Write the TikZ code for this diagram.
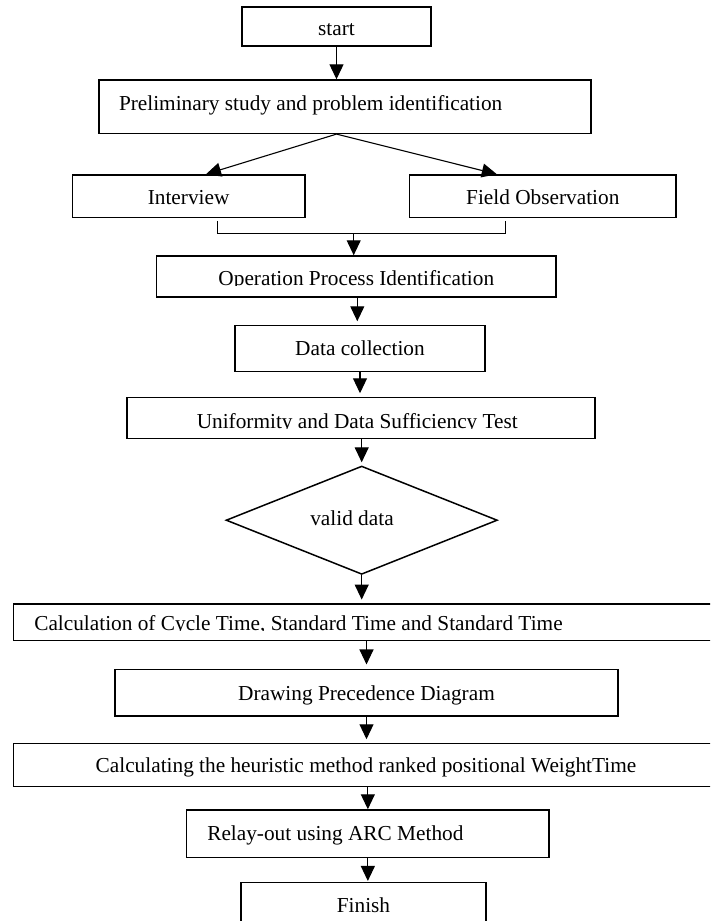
\documentclass[tikz,border=0pt]{standalone}
\usepackage{fontspec}
\setmainfont{Liberation Serif}
\usetikzlibrary{shapes.geometric,arrows.meta}
\begin{document}
\begin{tikzpicture}[x=1pt,y=-1pt,
  bx/.style={draw, line width=1.5pt, inner sep=0pt, font=\fontsize{21.3pt}{25pt}\selectfont, text depth=0pt},
  arr/.style={line width=1.1pt, -{Triangle[length=15pt,width=14pt]}},
  thinline/.style={line width=0.8pt},
]
\useasboundingbox (0,0) rectangle (710,921);
\clip (0,0) rectangle (710,921);
\fill[white] (0,0) rectangle (710,921);

\node[bx, minimum width=189pt, minimum height=39pt, text height=17pt] (start) at (336.5,26.5) {start};
\node[bx, minimum width=492pt, minimum height=53.3pt, text height=6.6pt, text width=452pt, inner xsep=20pt, align=flush left] (prelim) at (345,106.7) {Preliminary study and problem identification};
\node[bx, minimum width=232.3pt, minimum height=42.7pt, text height=15.4pt] (interview) at (188.6,196.3) {Interview};
\node[bx, minimum width=266.8pt, minimum height=42.7pt, text height=15.4pt] (field) at (542.8,196.3) {Field Observation};
\node[bx, minimum width=399.3pt, minimum height=41pt, text height=18.4pt] (op) at (356.3,276.5) {Operation Process Identification};
\node[bx, minimum width=250pt, minimum height=46pt, text height=12.6pt] (data) at (360,348.7) {Data collection};
\node[bx, minimum width=468pt, minimum height=40.6pt, text height=20.6pt] (unif) at (360.9,418) {Uniformity and Data Sufficiency Test\kern7.2pt};
\node[bx, diamond, aspect=2.5, minimum width=271.3pt, minimum height=108.3pt, text height=11pt] (valid) at (361.7,520.2) {valid data\kern19.4pt};
\node[bx, minimum width=746.7pt, minimum height=36.7pt, text height=16.7pt, text width=704.7pt, inner xsep=21pt, align=flush left] (calc) at (386.65,622.35) {Calculation of Cycle Time, Standard Time and Standard Time};
\node[bx, minimum width=503pt, minimum height=46.4pt, text height=14.6pt] (prec) at (366.5,692.7) {Drawing Precedence Diagram};
\node[bx, minimum width=746.7pt, minimum height=43.4pt, text height=15.4pt, text width=581.9pt, inner xsep=82.4pt, align=flush left] (heur) at (386.65,765) {Calculating the heuristic method ranked positional WeightTime};
\node[bx, minimum width=362.3pt, minimum height=47.7pt, text height=12.3pt, text width=321.1pt, inner xsep=20.6pt, align=flush left] (relay) at (367.85,833.85) {Relay-out using ARC Method};
\node[bx, minimum width=245pt, minimum height=57.3pt, text height=2.7pt] (finish) at (363.5,911.35) {Finish};

% lower parts of some texts are cut off in the original
\fill[white] (158,286.1) rectangle (555,296.1);
\fill[white] (128,428.6) rectangle (594,437.4);
\fill[white] (14.5,631.0) rectangle (710,639.8);

% connectors
\draw[arr] (start.south) -- (start.south |- prelim.north);
\coordinate (split) at (start.south |- prelim.south);
\draw[arr] (split) -- ([xshift=17.4pt]interview.north);
\draw[arr] (split) -- ([xshift=-46pt]field.north);

\coordinate (iL) at ([xshift=29.2pt,yshift=-2.5pt]interview.south);
\coordinate (fR) at ([xshift=-37.8pt,yshift=-2.5pt]field.south);
\coordinate (mL) at ([xshift=29.2pt,yshift=-15.3pt]interview.south);
\coordinate (mR) at ([xshift=-37.8pt,yshift=-15.3pt]field.south);
\draw[thinline] (iL) -- (mL) -- (mR) -- (fR);
\coordinate (mj) at (353.7,233);
\draw[arr] (mj) -- (mj |- op.north);

\draw[arr, shorten >=3.7pt] ([xshift=1pt]op.south) -- ([xshift=1pt]op.south |- data.north);
\draw[arr, shorten >=3.7pt] (data.south) -- (data.south |- unif.north);
\draw[arr, shorten >=3pt] (valid.north |- unif.south) -- (valid.north);
\draw[arr, shorten >=3.7pt] (valid.south) -- (valid.south |- calc.north);
\draw[arr, shorten >=4.3pt] (prec.north |- calc.south) -- (prec.north);
\draw[arr, shorten >=3.3pt] (prec.south) -- (prec.south |- heur.north);
\draw[arr] (relay.north |- heur.south) -- (relay.north);
\draw[arr, shorten >=1pt] (relay.south) -- (relay.south |- finish.north);
\end{tikzpicture}
\end{document}
